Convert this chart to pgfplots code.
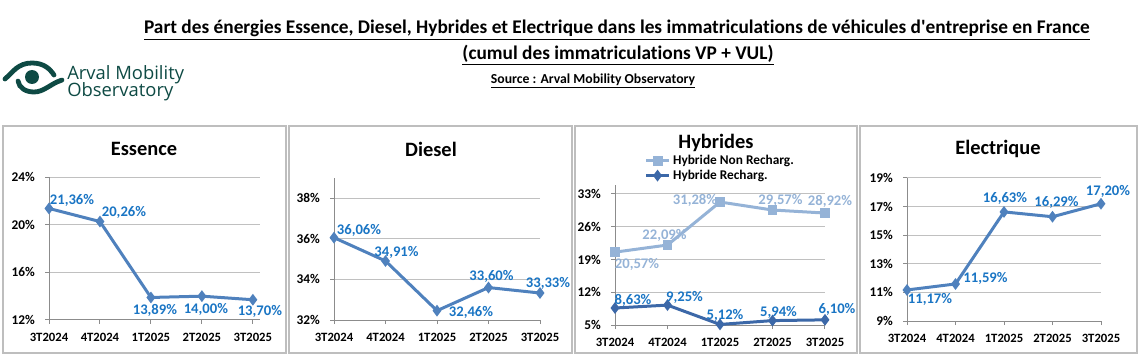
\documentclass[border=0pt]{standalone}
\usepackage{pgfplots}
\pgfplotsset{compat=1.18}
\usepackage{fontspec}
\setmainfont{Carlito}[Ligatures={TeXOff,NoCommon}]
\newfontfamily\logofont{Open Sans}
\definecolor{linec}{HTML}{4F81BD}
\definecolor{labc}{HTML}{1A75C4}
\definecolor{lightc}{HTML}{95B3D7}
\definecolor{darkc}{HTML}{3C68A8}
\definecolor{gridc}{HTML}{C0C0C0}
\definecolor{axisc}{HTML}{8C8C8C}
\definecolor{borderc}{HTML}{BEBEBE}
\definecolor{logoc}{HTML}{0E4A44}
\pgfplotsset{
  panel/.style={
    scale only axis,
    axis x line*=bottom, axis y line*=left,
    xmin=0, xmax=4, xtick={0,...,4},
    xticklabels={3T2024,4T2024,1T2025,2T2025,3T2025},
    ymajorgrids, grid style={gridc, line width=0.75pt},
    axis line style={axisc, line width=0.75pt},
    tick align=outside, major tick length=3pt,
    tick style={axisc, line width=0.75pt},
    xticklabel style={font=\bfseries\fontsize{9.5}{11}\selectfont, text=black, yshift=-3pt},
    yticklabel style={font=\bfseries\fontsize{10}{11}\selectfont, text=black, xshift=-4pt},
    yticklabel={\pgfmathprintnumber{\tick}\%},
    /pgf/number format/assume math mode=true,
    clip=false,
  },
  lab/.style={
    point meta=y,
    visualization depends on={value \thisrow{dx}\as\dx},
    visualization depends on={value \thisrow{dy}\as\dy},
    nodes near coords={\pgfmathprintnumber[fixed,fixed zerofill,precision=2,use comma,assume math mode=true]{\pgfplotspointmeta}\%},
    nodes near coords style={font=\bfseries\fontsize{11}{12}\selectfont, text=#1, anchor=center, inner sep=0pt, xshift=\dx*0.75pt, yshift=\dy*0.75pt},
  },
  ser/.style={color=#1, line width=2.25pt, mark=diamond*, mark size=2.6pt, mark options={solid}},
}
\begin{document}
\begin{tikzpicture}
\begin{scope}[x=0.75pt,y=-0.75pt]
  \path (0,0) rectangle (1140,356);
  % titles
  \node[font=\bfseries\fontsize{14.5}{16}\selectfont] at (617,30) {\underline{Part des énergies Essence, Diesel, Hybrides et Electrique dans les immatriculations de véhicules d'entreprise en France}};
  \node[font=\bfseries\fontsize{14.5}{16}\selectfont] at (618,55) {\underline{(cumul des immatriculations VP + VUL)}};
  \node[font=\bfseries\fontsize{10.3}{11}\selectfont] at (593,81) {\underline{Source : Arval Mobility Observatory}};
  % logo
  \draw[logoc, line width=3.6pt, line cap=round] (5,79) .. controls (13,72) and (18,63) .. (32,63) .. controls (44,63) and (50,69) .. (54,75);
  \draw[logoc, line width=3.6pt, line cap=round] (18,81) .. controls (19,88) and (26,92) .. (34,92) .. controls (44,92) and (50,84) .. (62,80);
  \fill[logoc] (32,77) circle (7);
  \node[logoc, anchor=base west, inner sep=0pt, font=\logofont\fontsize{13.8}{15}\selectfont] at (67,80) {Arval Mobility};
  \node[logoc, anchor=base west, inner sep=0pt, font=\logofont\fontsize{13.8}{15}\selectfont] at (67,97) {Observatory};
  % panel borders
  \draw[borderc, line width=0.9pt] (3,126) rectangle (286,353);
  \draw[borderc, line width=0.9pt] (289,126) rectangle (572,353);
  \draw[borderc, line width=0.9pt] (575,126) rectangle (857,353);
  \draw[borderc, line width=0.9pt] (860,126) rectangle (1137,353);
  % panel titles
  \node[font=\bfseries\fontsize{15.3}{17}\selectfont] at (144,149) {Essence};
  \node[font=\bfseries\fontsize{15.3}{17}\selectfont] at (431,149) {Diesel};
  \node[font=\bfseries\fontsize{15.3}{17}\selectfont] at (716,143) {Hybrides};
  \node[font=\bfseries\fontsize{15.3}{17}\selectfont] at (998,149) {Electrique};
\end{scope}

% Essence
\begin{axis}[panel, at={(36.75pt,-240pt)}, anchor=south west,
  width=158.25pt, height=107.25pt, xmax=4.14,
  ymin=12, ymax=24, ytick={12,16,20,24}]
\addplot[ser=linec, lab=labc] table {
x y dx dy
0 21.36 23 8
1 20.26 24 9
2 13.89 4 -13
3 14.00 4 -13
4 13.70 7 -12
};
\end{axis}

% Diesel
\begin{axis}[panel, at={(250.5pt,-240pt)}, anchor=south west,
  width=154.5pt, height=106.5pt,
  ymin=32, ymax=39, ytick={32,34,36,38}]
\addplot[ser=linec, lab=labc] table {
x y dx dy
0 36.06 25 7
1 34.91 11 9
2 32.46 34 -2
3 33.60 3 11
4 33.33 8 10
};
\end{axis}

% Hybrides
\begin{axis}[panel, at={(461.25pt,-243.75pt)}, anchor=south west,
  width=157.5pt, height=105.3pt,
  ymin=5, ymax=35, ytick={5,12,19,26,33},
  legend style={at={(0.14,1.23)}, anchor=north west, draw=none, fill=none,
    font=\bfseries\fontsize{10}{11}\selectfont, inner sep=0pt, row sep=-1.5pt,
    cells={anchor=west}},
  legend cell align=left]
\addplot[ser=lightc, mark=square*, mark size=2.6pt, lab=lightc] table {
x y dx dy
0 20.57 22 -12
1 22.09 -3 10
2 31.28 -25 2
3 29.57 8 10
4 28.92 5 12
};
\addlegendentry{Hybride Non Recharg.}
\addplot[ser=darkc, lab=labc] table {
x y dx dy
0 8.63 18 8
1 9.25 17 8
2 5.12 5 9
3 5.94 6 8
4 6.10 12 10
};
\addlegendentry{Hybride Recharg.}
\end{axis}

% Electrique
\begin{axis}[panel, at={(680.25pt,-240.75pt)}, anchor=south west,
  width=145.5pt, height=107.25pt,
  ymin=9, ymax=19, ytick={9,11,13,15,17,19}]
\addplot[ser=linec, lab=labc] table {
x y dx dy
0 11.17 23 -9
1 11.59 30 6
2 16.63 1 13
3 16.29 4 14
4 17.20 7 12
};
\end{axis}
\end{tikzpicture}
\end{document}
